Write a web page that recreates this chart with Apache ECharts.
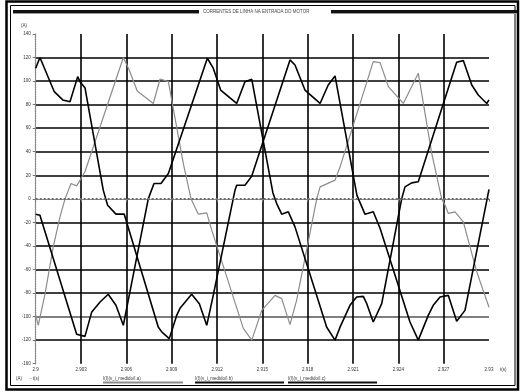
<!DOCTYPE html>
<html><head><meta charset="utf-8">
<script src="https://cdn.jsdelivr.net/npm/echarts@6/dist/echarts.min.js"></script>
<style>html,body{margin:0;padding:0;background:#fff}#c{width:520px;height:392px}</style>
</head><body><div id="c"></div>
<script>
const T0 = 2.9;
const xTickLabels = ['2.9','2.903','2.906','2.909','2.912','2.915','2.918','2.921','2.924','2.927','2.93'];
const yTickLabels = ['-160','-120','-100','-80','-60','-40','-20','0','20','40','60','80','100','120','140'];
const seriesNames = ['I(I)(v_i_medido/I.a)','I(I)(v_i_medido/I.b)','I(I)(v_i_medido/I.c)'];

const tA = [2.90000,2.90017,2.90062,2.90116,2.90161,2.90194,2.90234,2.90271,2.90326,2.90580,2.90619,2.90672,2.90778,2.90823,2.90878,2.90977,2.91028,2.91076,2.91132,2.91165,2.91374,2.91430,2.91496,2.91584,2.91628,2.91683,2.91727,2.91860,2.91882,2.91981,2.92014,2.92234,2.92279,2.92334,2.92433,2.92532,2.92621,2.92687,2.92709,2.92731,2.92775,2.92830,2.92919,2.93000];
const iA = [-99,-107.4,-80.5,-40.8,-15.3,0,13,11,23,120,109.5,91.6,81,101.8,99.5,30,0,-13,-11.9,-26.6,-110,-120,-94.7,-82,-84.7,-106.8,-86,0,10.2,15.9,27,116.5,115.7,95.3,81,106.7,38.6,0,-5.4,-12.4,-11,-19.6,-62,-92];

const tB = [2.90000,2.90028,2.90123,2.90179,2.90227,2.90278,2.90293,2.90326,2.90447,2.90476,2.90531,2.90586,2.90811,2.90834,2.90884,2.90933,2.90955,2.91032,2.91083,2.91132,2.91175,2.91319,2.91330,2.91385,2.91430,2.91683,2.91716,2.91782,2.91882,2.91936,2.91981,2.92126,2.92179,2.92234,2.92279,2.92477,2.92532,2.92598,2.92631,2.92676,2.92731,2.92786,2.92841,2.93000];
const iB = [110.9,120,91,84,82.5,103.8,99.5,94.4,7.4,-5.4,-13,-13,-108.9,-113,-118.7,-99,-93,-81,-89,-107.4,-82,7.4,11.6,11.6,19.3,118,113.7,92.4,81,96.7,104.4,3,-13,-11,-25,-104.6,-120,-99,-90.4,-83.4,-82,-104,-94.7,8];

const tC = [2.90000,2.90028,2.90271,2.90326,2.90371,2.90426,2.90480,2.90531,2.90580,2.90602,2.90745,2.90783,2.90829,2.90878,2.91136,2.91175,2.91224,2.91330,2.91385,2.91430,2.91570,2.91595,2.91628,2.91672,2.91716,2.91926,2.91981,2.92014,2.92080,2.92124,2.92168,2.92191,2.92234,2.92290,2.92422,2.92444,2.92488,2.92532,2.92698,2.92786,2.92830,2.92886,2.92929,2.92985,2.93000];
const iC = [-13,-13.9,-115,-116.8,-96,-87.6,-81,-90.4,-107.4,-93,0,13,13,21.6,119.4,111,92.4,81,99.5,101.5,5,-4,-13,-11,-23.8,-109,-120,-109,-90.4,-83.4,-82.8,-89,-104.6,-89,0,10.2,13.6,14.5,81,116,117.4,96.7,88.2,81,84];

const toPts = (ts, is) => ts.map((t, k) => [(t - T0) * 1000, is[k]]);

const FONT = 'Liberation Sans, Arial, sans-serif';
const lbl = {fontSize: 4.5, color: '#333', fontFamily: FONT};
const yGridColors = ['rgba(0,0,0,0)','#000','#555','#000','#000','#000','#000','rgba(0,0,0,0)','#000','#000','#000','#000','#000','#000','rgba(0,0,0,0)'];
const xGridColors = ['rgba(0,0,0,0)','#000','#000','#000','#000','#000','#000','#000','#000','#000','rgba(0,0,0,0)'];
const dotted = {color: '#8a8a8a', width: 1.2, type: 'dotted'};

const chart = echarts.init(document.getElementById('c'), null, {renderer: 'canvas'});
chart.setOption({
  animation: false,
  backgroundColor: '#fff',
  grid: {left: 35.7, right: 31, top: 34, bottom: 28.3, containLabel: false},
  xAxis: [{
    type: 'value', min: 0, max: 30, interval: 3, position: 'bottom',
    axisLine: {show: true, lineStyle: dotted},
    axisTick: {show: true, length: 3, lineStyle: {color: '#777', width: 1}},
    axisLabel: Object.assign({margin: 4, formatter: v => xTickLabels[Math.round(v / 3)]}, lbl),
    splitLine: {show: true, showMinLine: true, showMaxLine: true, lineStyle: {color: xGridColors, width: 1.6}}
  }, {
    type: 'value', min: 0, max: 30, interval: 3, position: 'top',
    axisLine: {show: true, lineStyle: dotted}, axisTick: {show: false}, axisLabel: {show: false}, splitLine: {show: false}
  }],
  yAxis: [{
    type: 'value', min: -140, max: 140, interval: 20, position: 'left',
    axisLine: {show: true, lineStyle: dotted},
    axisTick: {show: true, length: 3, lineStyle: {color: '#777', width: 1}},
    axisLabel: Object.assign({margin: 5, formatter: v => yTickLabels[Math.round((v + 140) / 20)]}, lbl),
    splitLine: {show: true, showMinLine: true, showMaxLine: true, lineStyle: {color: yGridColors, width: 1.6}}
  }, {
    type: 'value', min: -140, max: 140, interval: 20, position: 'right',
    axisLine: {show: true, lineStyle: dotted}, axisTick: {show: false}, axisLabel: {show: false}, splitLine: {show: false}
  }],
  series: [
    {name: seriesNames[0], type: 'line', data: toPts(tA, iA), showSymbol: false, symbol: 'none',
     lineStyle: {color: '#8c8c8c', width: 1.2}, z: 3,
     markLine: {silent: true, symbol: 'none', label: {show: false},
       lineStyle: {color: '#6e6e6e', width: 2, type: 'dotted'}, data: [{yAxis: 0}]}},
    {name: seriesNames[1], type: 'line', data: toPts(tB, iB), showSymbol: false, symbol: 'none',
     lineStyle: {color: '#000', width: 1.6}, z: 4},
    {name: seriesNames[2], type: 'line', data: toPts(tC, iC), showSymbol: false, symbol: 'none',
     lineStyle: {color: '#000', width: 1.6}, z: 4}
  ],
  graphic: [
    {type: 'rect', shape: {x: 6.5, y: 1.5, width: 511.5, height: 388}, style: {fill: 'none', stroke: '#000', lineWidth: 2.5}, silent: true},
    {type: 'rect', shape: {x: 10.5, y: 5.5, width: 504.5, height: 380}, style: {fill: 'none', stroke: '#000', lineWidth: 1}, silent: true},
    {type: 'rect', shape: {x: 13, y: 10, width: 186, height: 3}, style: {fill: '#111'}, silent: true},
    {type: 'rect', shape: {x: 13, y: 13, width: 186, height: 1}, style: {fill: '#999'}, silent: true},
    {type: 'rect', shape: {x: 331, y: 10, width: 186, height: 3}, style: {fill: '#111'}, silent: true},
    {type: 'rect', shape: {x: 331, y: 13, width: 186, height: 1}, style: {fill: '#999'}, silent: true},
    {type: 'text', x: 203, y: 11.5, style: {text: 'CORRENTES DE LINHA NA ENTRADA DO MOTOR', fontSize: 4.5, fill: '#444', fontFamily: FONT, verticalAlign: 'middle'}},
    {type: 'text', x: 24, y: 26, style: {text: '(A)', fontSize: 4.5, fill: '#333', fontFamily: FONT, align: 'center', verticalAlign: 'middle'}},
    {type: 'text', x: 500, y: 369.5, style: {text: 't(s)', fontSize: 4.5, fill: '#333', fontFamily: FONT, verticalAlign: 'middle'}},
    {type: 'text', x: 16, y: 379, style: {text: '(A)', fontSize: 4.5, fill: '#333', fontFamily: FONT, verticalAlign: 'middle'}},
    {type: 'text', x: 30, y: 379, style: {text: '- t(s)', fontSize: 4.5, fill: '#333', fontFamily: FONT, verticalAlign: 'middle'}},
    {type: 'text', x: 103, y: 379, style: {text: seriesNames[0], fontSize: 4.5, fill: '#333', fontFamily: FONT, verticalAlign: 'middle'}},
    {type: 'rect', shape: {x: 103, y: 381.5, width: 80, height: 2}, style: {fill: '#8c8c8c'}, silent: true},
    {type: 'text', x: 195, y: 379, style: {text: seriesNames[1], fontSize: 4.5, fill: '#333', fontFamily: FONT, verticalAlign: 'middle'}},
    {type: 'rect', shape: {x: 195, y: 381.5, width: 89, height: 2}, style: {fill: '#111'}, silent: true},
    {type: 'text', x: 288, y: 379, style: {text: seriesNames[2], fontSize: 4.5, fill: '#333', fontFamily: FONT, verticalAlign: 'middle'}},
    {type: 'rect', shape: {x: 288, y: 381.5, width: 89, height: 2}, style: {fill: '#111'}, silent: true}
  ]
});
</script></body></html>
